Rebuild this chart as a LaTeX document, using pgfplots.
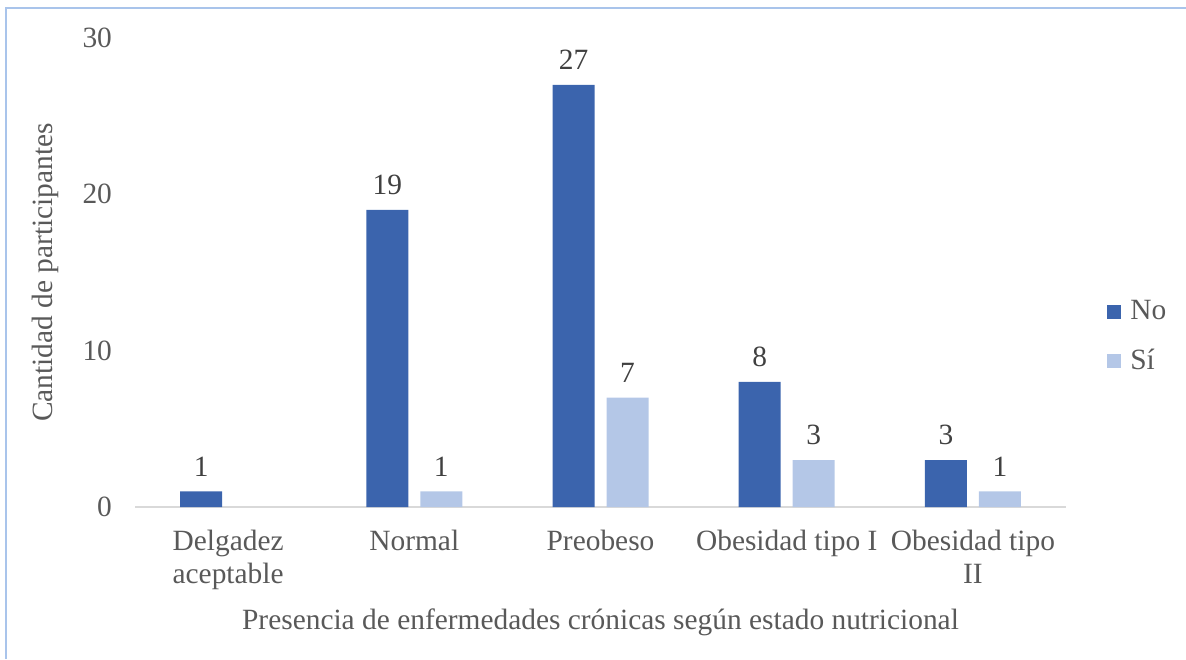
\documentclass[border=0pt]{standalone}
\usepackage{fontspec}
\setmainfont{Liberation Serif}
\usepackage{pgfplots}
\pgfplotsset{compat=1.18}
\definecolor{barno}{HTML}{3B64AD}
\definecolor{barsi}{HTML}{B4C7E7}
\definecolor{txt}{HTML}{595959}
\definecolor{lbl}{HTML}{404040}
\definecolor{framec}{HTML}{A9C4EB}
\definecolor{axisgray}{HTML}{D9D9D9}
\newcommand{\chartfont}{\fontsize{14.7}{16.5}\selectfont}

\begin{document}
\begin{tikzpicture}
\useasboundingbox (0,0) rectangle (593pt,329.5pt);
\draw[framec, line width=0.6pt] (3pt,0) -- (3pt,325.5pt) -- (593pt,325.5pt);
\begin{axis}[
    at={(67.5pt,76pt)}, anchor=south west,
    scale only axis,
    width=465.5pt, height=234.5pt,
    clip=false,
    ybar=6pt, bar width=21pt,
    xmin=-0.5, xmax=4.5,
    ymin=0, ymax=30,
    xtick={0,1,2,3,4},
    xticklabels={Delgadez\\aceptable, Normal, Preobeso, Obesidad tipo I, Obesidad tipo\\II},
    ytick={0,10,20,30},
    major tick length=0pt,
    axis x line*=bottom, axis y line*=left,
    x axis line style={draw=axisgray, line width=0.75pt, -},
    y axis line style={draw=none},
    tick label style={font=\chartfont, text=txt},
    /pgf/number format/assume math mode=true,
    xticklabel style={align=center, anchor=north, yshift=-8pt},
    yticklabel style={anchor=east, xshift=-8pt},
    xlabel={Presencia de enfermedades crónicas según estado nutricional},
    xlabel style={font=\chartfont, text=txt, at={(axis description cs:0.5,0)}, anchor=base, yshift=-61pt},
    ylabel={Cantidad de participantes},
    ylabel style={font=\chartfont, text=txt, at={(axis description cs:0,0.5)}, anchor=center, yshift=45pt},
    nodes near coords,
    every node near coord/.append style={font=\chartfont, text=lbl, yshift=4pt},
    legend style={at={(1.044,0.3635)}, anchor=west, draw=none, fill=none,
        inner sep=0pt, font=\chartfont, text=txt, row sep=9pt,
        nodes={inner xsep=1pt, inner ysep=2pt},
        /tikz/every odd column/.append style={column sep=3.5pt}},
    legend cell align=left,
    legend image code/.code={\fill[#1] (0pt,-3.5pt) rectangle (7pt,3.5pt);},
]
\addplot[fill=barno, draw=none] coordinates {(0,1) (1,19) (2,27) (3,8) (4,3)};
\addplot[fill=barsi, draw=none] coordinates {(1,1) (2,7) (3,3) (4,1)};
\legend{No, Sí}
\end{axis}
\end{tikzpicture}
\end{document}
